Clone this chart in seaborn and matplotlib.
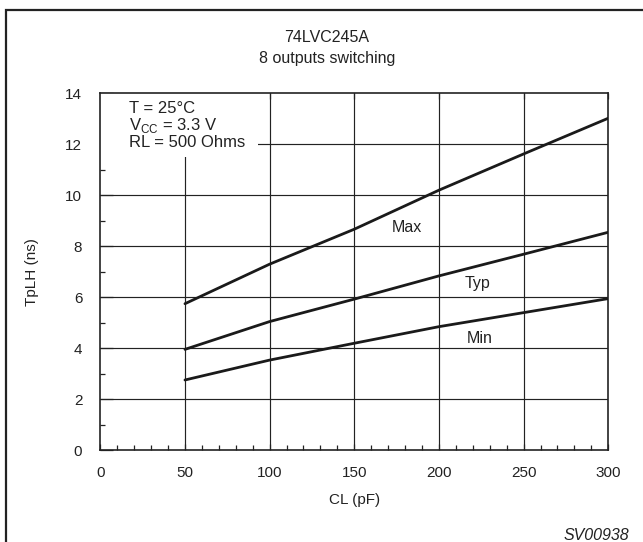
import matplotlib
matplotlib.use("Agg")
import matplotlib.pyplot as plt
from matplotlib.patches import Rectangle
from matplotlib.ticker import MultipleLocator
import seaborn as sns
import pandas as pd

cl_pf = [50, 100, 150, 200, 250, 300]
tplh_max = [5.75, 7.3, 8.67, 10.2, 11.62, 13.02]
tplh_typ = [3.96, 5.05, 5.93, 6.84, 7.69, 8.55]
tplh_min = [2.76, 3.54, 4.2, 4.85, 5.4, 5.95]
curve_names = ["Max", "Typ", "Min"]
label_pos = [(181, 8.75), (223, 6.55), (224, 4.39)]
x_grid = [50, 100, 150, 200, 250]
y_grid = [2, 4, 6, 8, 10, 12]

df = pd.DataFrame({
    "CL": cl_pf * 3,
    "TpLH": tplh_max + tplh_typ + tplh_min,
    "curve": [n for n in curve_names for _ in cl_pf],
})

sns.set_style("white")
plt.rcParams["font.family"] = ["Liberation Sans", "DejaVu Sans"]
ink = "#222222"

fig = plt.figure(figsize=(6.43, 5.42), dpi=100)
ax = fig.add_axes([0.156, 0.169, 0.790, 0.659])

# outer frame around the whole figure
fig.patches.append(Rectangle((5.5 / 643, -0.05), 1.1, 1 - 10 / 542 + 0.05,
                             transform=fig.transFigure, fill=False,
                             edgecolor=ink, linewidth=1.6))

# grid drawn by hand so the legend box can hide it but not the ticks
for gx in x_grid:
    ax.axvline(gx, color=ink, linewidth=0.85, zorder=1)
for gy in y_grid:
    ax.axhline(gy, color=ink, linewidth=0.85, zorder=1)
ax.add_patch(Rectangle((0, 11.5), 93, 2.5, facecolor="white",
                       edgecolor="none", zorder=1.5))

sns.lineplot(data=df, x="CL", y="TpLH", units="curve", estimator=None,
             color="#1a1a1a", linewidth=2.0, ax=ax, zorder=3)

ax.set_xlim(0, 300)
ax.set_ylim(0, 14)
ax.xaxis.set_major_locator(MultipleLocator(50))
ax.xaxis.set_minor_locator(MultipleLocator(10))
ax.yaxis.set_major_locator(MultipleLocator(2))
ax.yaxis.set_minor_locator(MultipleLocator(1))
ax.grid(False)
ax.tick_params(which="both", direction="in", colors=ink, labelcolor=ink,
               labelsize=11, bottom=True, left=True)
ax.tick_params(which="major", top=True, width=0.9)
ax.tick_params(axis="x", which="major", length=4.5, pad=11.5)
ax.tick_params(axis="y", which="major", length=9, pad=13)
ax.tick_params(which="minor", length=3.5, width=0.9)
for s in ax.spines.values():
    s.set_color(ink)
    s.set_linewidth(1.2)

ax.set_xlabel("CL (pF)", fontsize=11, color=ink, labelpad=9)
ax.set_ylabel("TpLH (ns)", fontsize=11, color=ink, labelpad=19)

for name, (lx, ly) in zip(curve_names, label_pos):
    ax.text(lx, ly, name, fontsize=11.5, color=ink,
            ha="center", va="center", zorder=4)

ax.text(17, 13.68, "T = 25°C\nV$_\\mathregular{CC}$ = 3.3 V\nRL = 500 Ohms",
        fontsize=12, color=ink, ha="left", va="top", linespacing=1.0,
        zorder=2)

fig.text(327 / 643, 1 - 38 / 542, "74LVC245A", ha="center", va="center",
         fontsize=11.5, color=ink)
fig.text(327 / 643, 1 - 59 / 542, "8 outputs switching", ha="center",
         va="center", fontsize=11.5, color=ink)
fig.text(629 / 643, 1 - 535 / 542, "SV00938", ha="right", va="center",
         fontsize=11.5, style="italic", color=ink)

fig.savefig("out.png", dpi=100)
